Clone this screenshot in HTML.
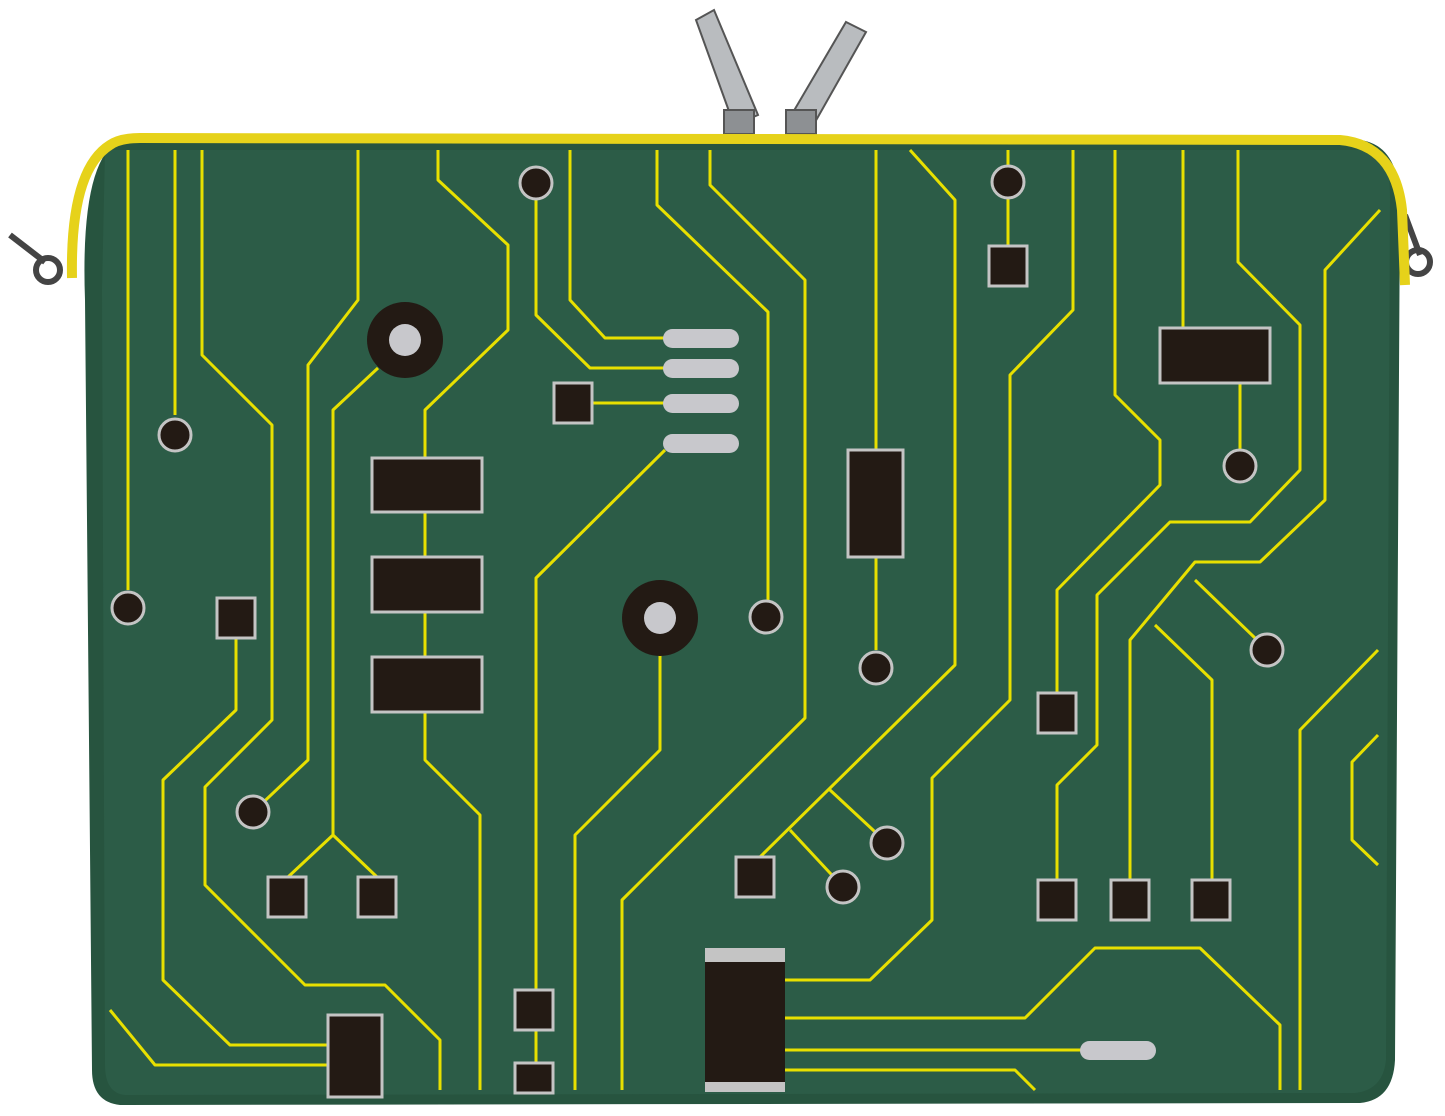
<!DOCTYPE html>
<html><head><meta charset="utf-8"><style>
html,body{margin:0;padding:0;background:#fff;width:1445px;height:1116px;overflow:hidden}
</style></head><body>
<svg width="1445" height="1116" viewBox="0 0 1445 1116" xmlns="http://www.w3.org/2000/svg">
<!-- zipper pulls -->
<g stroke="#555" stroke-width="2">
<path d="M696 20 L714 10 L758 115 L734 125 Z" fill="#b9bcbf"/>
<path d="M846 22 L866 32 L814 124 L792 114 Z" fill="#b9bcbf"/>
<rect x="724" y="110" width="30" height="24" fill="#8d9093"/>
<rect x="786" y="110" width="30" height="24" fill="#8d9093"/>
</g>
<!-- side rings -->
<g fill="none" stroke="#444" stroke-width="6">
<path d="M10 235 L45 262"/><circle cx="48" cy="270" r="12"/>
<path d="M1405 215 L1420 255"/><circle cx="1418" cy="262" r="12"/>
</g>
<!-- body -->
<path d="M120 140 L1360 140 Q1398 145 1400 200 L1395 1060 Q1393 1100 1360 1103 L120 1105 Q92 1102 92 1070 L85 300 Q80 160 120 140 Z" fill="#27543f"/>
<path d="M105 150 L1380 150 Q1390 160 1390 200 L1386 1060 Q1383 1090 1355 1093 L125 1095 Q105 1093 105 1065 L102 290 Z" fill="#2c5c47"/>
<!-- zipper -->
<path d="M72 278 Q70 170 110 145 Q120 138 140 138 L1340 140 Q1395 145 1402 210 L1405 285" fill="none" stroke="#e6d21a" stroke-width="10"/>
<!-- traces -->
<g fill="none" stroke="#e8e000" stroke-width="3" stroke-linejoin="round">
<path d="M128 150 V590"/>
<path d="M175 150 V415"/>
<path d="M202 150 V355 L272 425 V720 L205 787 V885 L305 985 H385 L440 1040 V1090"/>
<path d="M358 150 V300 L308 365 V760 L253 812"/>
<path d="M378 368 L333 410 V835 L288 877 M333 835 L377 877"/>
<path d="M438 150 V180 L508 245 V330 L425 410 V760 L480 815 V1090"/>
<path d="M236 638 V710 L163 780 V980 L230 1045 H330"/>
<path d="M110 1010 L155 1065 H330"/>
<path d="M536 200 V315 L590 368 H665"/>
<path d="M570 150 V300 L605 338 H665"/>
<path d="M573 403 H665"/>
<path d="M665 450 L536 578 V1090"/>
<path d="M660 655 V750 L575 835 V1090"/>
<path d="M657 150 V205 L768 312 V600"/>
<path d="M710 150 V185 L805 280 V718 L622 900 V1090"/>
<path d="M876 150 V650"/>
<path d="M910 150 L955 200 V665 L760 857 M830 790 L887 843 M790 830 L843 887"/>
<path d="M1008 150 V266"/>
<path d="M1073 150 V310 L1010 375 V700 L932 778 V920 L870 980 H785"/>
<path d="M1115 150 V395 L1160 440 V485 L1057 590 V713"/>
<path d="M1183 150 V340 M1240 383 V450"/>
<path d="M1238 150 V262 L1300 325 V470 L1250 522 H1170 L1097 595 V745 L1057 785 V900"/>
<path d="M1380 210 L1325 270 V500 L1260 562 H1195 L1130 640 V900 M1155 625 L1212 680 V900 M1195 580 L1255 638"/>
<path d="M1378 650 L1300 730 V1090"/>
<path d="M1378 735 L1352 762 V840 L1378 865"/>
<path d="M785 1018 H1025 L1095 948 H1200 L1280 1025 V1090"/>
<path d="M785 1050 H1090"/>
<path d="M785 1070 H1015 L1035 1090"/>
</g>
<!-- components -->
<g fill="#231a14" stroke="#c4c4c4" stroke-width="3">
<circle cx="128" cy="608" r="16"/><circle cx="175" cy="435" r="16"/><circle cx="253" cy="812" r="16"/>
<circle cx="536" cy="183" r="16"/><circle cx="766" cy="617" r="16"/><circle cx="876" cy="668" r="16"/>
<circle cx="887" cy="843" r="16"/><circle cx="843" cy="887" r="16"/><circle cx="1008" cy="182" r="16"/>
<circle cx="1240" cy="466" r="16"/><circle cx="1267" cy="650" r="16"/>
<rect x="217" y="598" width="38" height="40"/>
<rect x="268" y="877" width="38" height="40"/><rect x="358" y="877" width="38" height="40"/>
<rect x="554" y="383" width="38" height="40"/>
<rect x="515" y="990" width="38" height="40"/><rect x="515" y="1063" width="38" height="30"/>
<rect x="736" y="857" width="38" height="40"/>
<rect x="989" y="246" width="38" height="40"/>
<rect x="1038" y="693" width="38" height="40"/>
<rect x="1038" y="880" width="38" height="40"/><rect x="1111" y="880" width="38" height="40"/><rect x="1192" y="880" width="38" height="40"/>
<rect x="372" y="458" width="110" height="54"/><rect x="372" y="557" width="110" height="55"/><rect x="372" y="657" width="110" height="55"/>
<rect x="848" y="450" width="55" height="107"/>
<rect x="1160" y="328" width="110" height="55"/>
<rect x="328" y="1015" width="54" height="82"/>
</g>
<rect x="705" y="948" width="80" height="142" fill="#231a14"/>
<rect x="705" y="948" width="80" height="14" fill="#c4c4c4"/>
<rect x="705" y="1082" width="80" height="10" fill="#c4c4c4"/>
<circle cx="405" cy="340" r="38" fill="#231a14"/><circle cx="405" cy="340" r="16" fill="#c8c8cc"/>
<circle cx="660" cy="618" r="38" fill="#231a14"/><circle cx="660" cy="618" r="16" fill="#c8c8cc"/>
<g fill="#c8c8cc">
<rect x="663" y="329" width="76" height="19" rx="9.5"/><rect x="663" y="359" width="76" height="19" rx="9.5"/>
<rect x="663" y="394" width="76" height="19" rx="9.5"/><rect x="663" y="434" width="76" height="19" rx="9.5"/>
<rect x="1080" y="1041" width="76" height="19" rx="9.5"/>
</g>
</svg>
</body></html>
